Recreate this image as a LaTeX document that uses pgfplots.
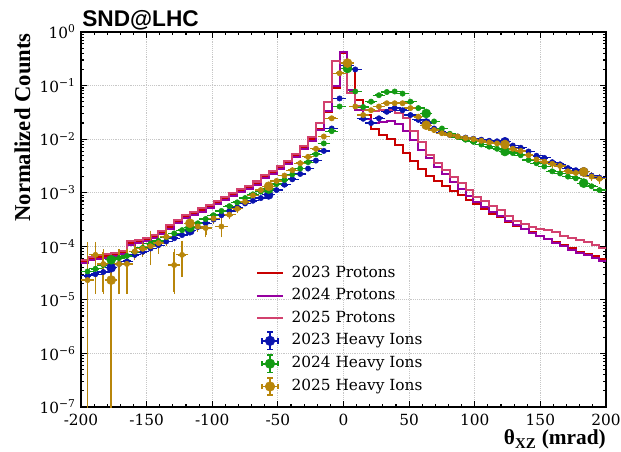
\documentclass[border=0pt]{standalone}
\usepackage{fontspec}
\setmainfont{DejaVu Serif}
\newfontfamily\labfont{Liberation Serif}
\newfontfamily\ttlfont{Liberation Sans}
\usepackage{pgfplots}
\pgfplotsset{compat=1.18}
\usepackage{pgfplotstable}

\definecolor{pr23}{RGB}{200,0,0}
\definecolor{pr24}{RGB}{150,0,160}
\definecolor{pr25}{RGB}{210,65,110}
\definecolor{hi23}{RGB}{10,20,175}
\definecolor{hi24}{RGB}{20,155,20}
\definecolor{hi25}{RGB}{184,134,11}

% proton histograms: e = left bin edge (6 mrad bins)
\pgfplotstableread{
e r m p
-201 5.25e-5 4.9e-5 5.6e-5
-195 6.03e-5 5.6e-5 6.45e-5
-189 6.31e-5 5.9e-5 6.75e-5
-183 6.61e-5 6.15e-5 7.07e-5
-177 7.08e-5 6.6e-5 7.58e-5
-171 7.59e-5 7.05e-5 8.12e-5
-165 1.15e-4 1.07e-4 1.23e-4
-159 1.23e-4 1.14e-4 1.32e-4
-153 1.35e-4 1.26e-4 1.44e-4
-147 1.51e-4 1.40e-4 1.62e-4
-141 1.82e-4 1.70e-4 1.95e-4
-135 2.29e-4 2.13e-4 2.45e-4
-129 2.88e-4 2.68e-4 3.08e-4
-123 3.63e-4 3.38e-4 3.88e-4
-117 4.17e-4 3.88e-4 4.46e-4
-111 4.79e-4 4.45e-4 5.13e-4
-105 5.50e-4 5.12e-4 5.89e-4
-99 6.61e-4 6.15e-4 7.07e-4
-93 7.94e-4 7.38e-4 8.50e-4
-87 9.33e-4 8.68e-4 1.00e-3
-81 1.10e-3 1.02e-3 1.18e-3
-75 1.26e-3 1.17e-3 1.35e-3
-69 1.51e-3 1.40e-3 1.62e-3
-63 2.00e-3 1.86e-3 2.14e-3
-57 2.40e-3 2.23e-3 2.57e-3
-51 2.95e-3 2.74e-3 3.16e-3
-45 3.72e-3 3.46e-3 3.98e-3
-39 4.90e-3 4.56e-3 5.25e-3
-33 7.08e-3 6.58e-3 7.60e-3
-27 1.00e-2 9.30e-3 1.10e-2
-21 1.58e-2 1.50e-2 2.00e-2
-15 3.16e-2 3.30e-2 5.00e-2
-9 8.91e-2 1.00e-1 2.82e-1
-3 4.00e-1 4.27e-1 2.60e-1
3 2.00e-1 8.30e-2 7.20e-2
9 5.37e-2 3.55e-2 4.20e-2
15 2.82e-2 2.40e-2 3.55e-2
21 1.58e-2 2.00e-2 3.30e-2
27 1.20e-2 2.09e-2 3.47e-2
33 1.00e-2 2.19e-2 3.47e-2
39 7.94e-3 1.91e-2 3.02e-2
45 5.62e-3 1.41e-2 2.45e-2
51 3.98e-3 9.55e-3 1.41e-2
57 2.82e-3 6.31e-3 8.90e-3
63 2.09e-3 4.37e-3 5.00e-3
69 1.66e-3 3.02e-3 3.55e-3
75 1.32e-3 2.19e-3 2.63e-3
81 1.10e-3 1.58e-3 2.00e-3
87 8.91e-4 1.15e-3 1.51e-3
93 7.41e-4 8.71e-4 1.12e-3
99 6.03e-4 6.76e-4 8.50e-4
105 5.01e-4 5.37e-4 6.92e-4
111 4.07e-4 4.37e-4 5.62e-4
117 3.47e-4 3.63e-4 4.68e-4
123 2.88e-4 2.95e-4 3.63e-4
129 2.40e-4 2.45e-4 3.02e-4
135 2.09e-4 2.09e-4 2.63e-4
141 1.82e-4 1.78e-4 2.34e-4
147 1.58e-4 1.55e-4 2.14e-4
153 1.38e-4 1.35e-4 2.00e-4
159 1.20e-4 1.17e-4 1.82e-4
165 1.05e-4 1.02e-4 1.58e-4
171 9.12e-5 8.71e-5 1.41e-4
177 7.94e-5 7.59e-5 1.32e-4
183 7.24e-5 6.76e-5 1.20e-4
189 6.46e-5 6.03e-5 1.05e-4
195 5.89e-5 5.37e-5 9.10e-5
201 5.89e-5 5.37e-5 9.10e-5
}\tprot

% heavy ions: bin centres
\pgfplotstableread{
x b g
-195 2.82e-5 3.39e-5
-189 3.02e-5 3.80e-5
-183 3.31e-5 4.47e-5
-177 3.98e-5 5.62e-5
-171 4.68e-5 6.03e-5
-165 5.25e-5 6.61e-5
-159 6.92e-5 7.94e-5
-153 7.94e-5 9.33e-5
-147 9.12e-5 1.12e-4
-141 1.05e-4 1.26e-4
-135 1.23e-4 1.48e-4
-129 1.41e-4 1.74e-4
-123 1.62e-4 2.00e-4
-117 1.95e-4 2.24e-4
-111 2.29e-4 2.69e-4
-105 2.69e-4 3.24e-4
-99 3.16e-4 3.80e-4
-93 3.80e-4 4.57e-4
-87 4.57e-4 5.62e-4
-81 5.37e-4 6.61e-4
-75 6.31e-4 7.94e-4
-69 7.08e-4 9.33e-4
-63 7.94e-4 1.05e-3
-57 9.12e-4 1.17e-3
-51 1.12e-3 1.45e-3
-45 1.41e-3 1.74e-3
-39 1.78e-3 2.19e-3
-33 2.24e-3 2.82e-3
-27 2.82e-3 3.72e-3
-21 3.98e-3 5.25e-3
-15 6.03e-3 8.32e-3
-9 1.58e-2 1.41e-2
-3 5.75e-2 4.07e-2
3 2.40e-1 2.09e-1
9 2.00e-1 7.76e-2
15 2.40e-2 3.98e-2
21 2.00e-2 5.01e-2
27 2.45e-2 6.61e-2
33 3.24e-2 7.59e-2
39 3.80e-2 7.76e-2
45 3.47e-2 7.08e-2
51 2.82e-2 5.01e-2
57 2.29e-2 3.80e-2
63 2.00e-2 3.02e-2
69 1.58e-2 2.14e-2
75 1.35e-2 1.58e-2
81 1.20e-2 1.26e-2
87 1.12e-2 1.10e-2
93 1.07e-2 9.77e-3
99 1.02e-2 8.91e-3
105 9.77e-3 7.94e-3
111 9.33e-3 7.24e-3
117 9.12e-3 6.61e-3
123 8.91e-3 5.89e-3
129 7.59e-3 5.50e-3
135 6.92e-3 5.01e-3
141 5.89e-3 4.07e-3
147 4.90e-3 3.55e-3
153 4.47e-3 3.09e-3
159 3.72e-3 2.51e-3
165 3.39e-3 2.29e-3
171 2.88e-3 2.00e-3
177 2.63e-3 1.86e-3
183 2.45e-3 1.51e-3
189 2.09e-3 1.32e-3
195 1.91e-3 1.12e-3
}\thi

\pgfplotstableread{
x y ep em
-195 2.34e-5 8.4e-5 2.3399e-5
-189 6.92e-5 4.1e-5 5.5e-5
-183 4.68e-5 3.26e-5 3.27e-5
-177 2.34e-5 3.28e-5 2.3399e-5
-171 4.68e-5 3.26e-5 3.27e-5
-165 4.68e-5 3.26e-5 3.27e-5
-159 8.0e-5 2.0e-5 2.0e-5
-153 9.0e-5 2.0e-5 2.0e-5
-147 1.0e-4 7.8e-5 5.1e-5
-141 1.15e-4 3.5e-5 3.5e-5
-135 1.51e-4 4.0e-5 4.0e-5
-129 4.47e-5 3.47e-5 3.06e-5
-123 6.92e-5 4.6e-5 3.97e-5
-117 2.69e-4 2.0e-5 2.0e-5
-111 2.34e-4 3.0e-5 3.0e-5
-105 2.19e-4 9.0e-5 5.7e-5
-99 3.31e-4 4.0e-5 4.0e-5
-93 2.34e-4 1.2e-4 7.2e-5
-87 3.89e-4 4.0e-5 4.0e-5
-81 5.01e-4 4.0e-5 4.0e-5
-75 6.76e-4 4.0e-5 4.0e-5
-69 8.91e-4 5.0e-5 5.0e-5
-63 1.12e-3 5.0e-5 5.0e-5
-57 1.32e-3 5.0e-5 5.0e-5
-51 1.66e-3 6.0e-5 6.0e-5
-45 2.09e-3 6.0e-5 6.0e-5
-39 2.63e-3 7.0e-5 7.0e-5
-33 3.55e-3 8.0e-5 8.0e-5
-27 4.68e-3 1.0e-4 1.0e-4
-21 6.61e-3 1.0e-4 1.0e-4
-15 1.12e-2 2.0e-4 2.0e-4
-9 2.45e-2 3.0e-4 3.0e-4
-3 1.70e-1 1.0e-3 1.0e-3
3 2.63e-1 1.0e-3 1.0e-3
9 4.07e-2 5.0e-4 5.0e-4
15 2.82e-2 4.0e-4 4.0e-4
21 3.47e-2 4.0e-4 4.0e-4
27 4.07e-2 5.0e-4 5.0e-4
33 4.68e-2 5.0e-4 5.0e-4
39 4.68e-2 5.0e-4 5.0e-4
45 4.68e-2 5.0e-4 5.0e-4
51 3.80e-2 5.0e-4 5.0e-4
57 2.63e-2 4.0e-4 4.0e-4
63 1.82e-2 3.0e-4 3.0e-4
69 1.48e-2 3.0e-4 3.0e-4
75 1.29e-2 3.0e-4 3.0e-4
81 1.20e-2 3.0e-4 3.0e-4
87 1.12e-2 3.0e-4 3.0e-4
93 1.05e-2 3.0e-4 3.0e-4
99 1.00e-2 3.0e-4 3.0e-4
105 9.33e-3 3.0e-4 3.0e-4
111 8.71e-3 3.0e-4 3.0e-4
117 8.32e-3 3.0e-4 3.0e-4
123 7.94e-3 4.0e-4 4.0e-4
129 6.61e-3 5.0e-4 5.0e-4
135 6.03e-3 5.0e-4 5.0e-4
141 5.01e-3 5.0e-4 5.0e-4
147 4.17e-3 4.0e-4 4.0e-4
153 3.80e-3 4.0e-4 4.0e-4
159 3.47e-3 3.0e-4 3.0e-4
165 3.16e-3 3.0e-4 3.0e-4
171 2.51e-3 3.0e-4 3.0e-4
177 2.34e-3 3.0e-4 3.0e-4
183 2.45e-3 3.0e-4 3.0e-4
189 2.00e-3 2.0e-4 2.0e-4
195 1.82e-3 2.0e-4 2.0e-4
}\thig

\pgfplotsset{
  prleg/.style={legend image code/.code={\draw[#1, line width=1.5pt] (0pt,0pt) -- (19pt,0pt);}},
  hileg/.style={legend image code/.code={%
    \draw[#1, line width=1.3pt] (3.5pt,0pt) -- (15.5pt,0pt);
    \draw[#1, line width=1.1pt] (3.5pt,-2pt) -- (3.5pt,2pt);
    \draw[#1, line width=1.1pt] (15.5pt,-2pt) -- (15.5pt,2pt);
    \draw[#1, line width=1.3pt] (9.5pt,-6.5pt) -- (9.5pt,6.5pt);
    \draw[#1, line width=1.1pt] (7.5pt,6.5pt) -- (11.5pt,6.5pt);
    \draw[#1, line width=1.1pt] (7.5pt,-6.5pt) -- (11.5pt,-6.5pt);
    \fill[#1] (9.5pt,0pt) circle (3.6pt);}},
  hibarsx/.style={only marks, mark=none,
    error bars/x dir=both, error bars/x fixed=3,
    error bars/error bar style={line width=1.3pt},
    error bars/error mark options={line width=0.9pt, mark size=1.7pt}},
  hibarsxy/.style={only marks, mark=none,
    error bars/x dir=both, error bars/x fixed=3,
    error bars/y dir=both, error bars/y explicit,
    error bars/error bar style={line width=1.3pt},
    error bars/error mark options={line width=0.9pt, mark size=1.7pt}},
  himarks/.style={only marks, mark=*, mark size=3.4pt, mark repeat=10, mark phase=4, forget plot},
}

\begin{document}
\begin{tikzpicture}
\begin{axis}[
  name=ax, at={(0,0)}, anchor=south west,
  scale only axis, width=393.75pt, height=281.25pt,
  xmin=-200, xmax=200, ymin=1e-7, ymax=1,
  ymode=log,
  xtick={-200,-150,-100,-50,0,50,100,150,200},
  minor x tick num=4,
  ytick={1e-7,1e-6,1e-5,1e-4,1e-3,1e-2,1e-1,1},
  yticklabels={10\textsuperscript{−7},10\textsuperscript{−6},10\textsuperscript{−5},10\textsuperscript{−4},10\textsuperscript{−3},10\textsuperscript{−2},10\textsuperscript{−1},10\textsuperscript{0}},
  minor ytick={2e-7,3e-7,4e-7,5e-7,6e-7,7e-7,8e-7,9e-7,
    2e-6,3e-6,4e-6,5e-6,6e-6,7e-6,8e-6,9e-6,
    2e-5,3e-5,4e-5,5e-5,6e-5,7e-5,8e-5,9e-5,
    2e-4,3e-4,4e-4,5e-4,6e-4,7e-4,8e-4,9e-4,
    2e-3,3e-3,4e-3,5e-3,6e-3,7e-3,8e-3,9e-3,
    2e-2,3e-2,4e-2,5e-2,6e-2,7e-2,8e-2,9e-2,
    2e-1,3e-1,4e-1,5e-1,6e-1,7e-1,8e-1,9e-1},
  tick align=inside,
  major tick length=4.5pt, minor tick length=2.4pt,
  tick style={black, line width=0.8pt},
  axis line style={line width=1.1pt},
  grid=major,
  grid style={densely dotted, black!22, line width=0.6pt},
  /pgf/number format/assume math mode=true,
  ticklabel style={font=\fontsize{11.5}{13}\selectfont},
  xticklabel style={yshift=-2pt},
  yticklabel style={xshift=-0.5pt},
  legend cell align=left,
  legend style={at={(0.334,0.381)}, anchor=north west, draw=none, fill=none,
    inner sep=0pt, outer sep=0pt, row sep=2.8pt, column sep=5pt,
    nodes={inner sep=1pt, text height=9pt, text depth=3pt},
    font=\fontsize{11.5}{13}\selectfont},
]
\addplot[const plot mark left, pr23, line width=1.5pt, prleg=pr23] table[x=e, y=r] {\tprot};
\addlegendentry{2023 Protons}
\addplot[const plot mark left, pr24, line width=1.5pt, prleg=pr24] table[x=e, y=m] {\tprot};
\addlegendentry{2024 Protons}
\addplot[const plot mark left, pr25, line width=1.5pt, prleg=pr25] table[x=e, y=p] {\tprot};
\addlegendentry{2025 Protons}

\addplot[hi23, hibarsx, hileg=hi23] table[x=x, y=b] {\thi};
\addlegendentry{2023 Heavy Ions}
\addplot[hi23, himarks] table[x=x, y=b] {\thi};

\addplot[hi24, hibarsx, hileg=hi24] table[x=x, y=g] {\thi};
\addlegendentry{2024 Heavy Ions}
\addplot[hi24, himarks] table[x=x, y=g] {\thi};

\addplot[hi25, hibarsxy, hileg=hi25] table[x=x, y=y, y error plus=ep, y error minus=em] {\thig};
\addlegendentry{2025 Heavy Ions}
\addplot[hi25, himarks] table[x=x, y=y] {\thig};
\end{axis}

\node[anchor=base west, inner sep=0pt, font=\ttlfont\bfseries\fontsize{17}{20}\selectfont] at (0.75pt,285.25pt) {SND@LHC};
\node[anchor=base, rotate=90, inner sep=0pt, font=\labfont\bfseries\fontsize{17}{20}\selectfont] at (-38.25pt,209.6pt) {Normalized Counts};
\node[anchor=base east, inner sep=0pt, font=\labfont\bfseries\fontsize{16}{19}\selectfont] at (393.75pt,-28.3pt) {θ\textsubscript{XZ} (mrad)};

\pgfresetboundingbox
\useasboundingbox (-60.75pt,-33pt) rectangle (405pt,305.25pt);
\end{tikzpicture}
\end{document}
